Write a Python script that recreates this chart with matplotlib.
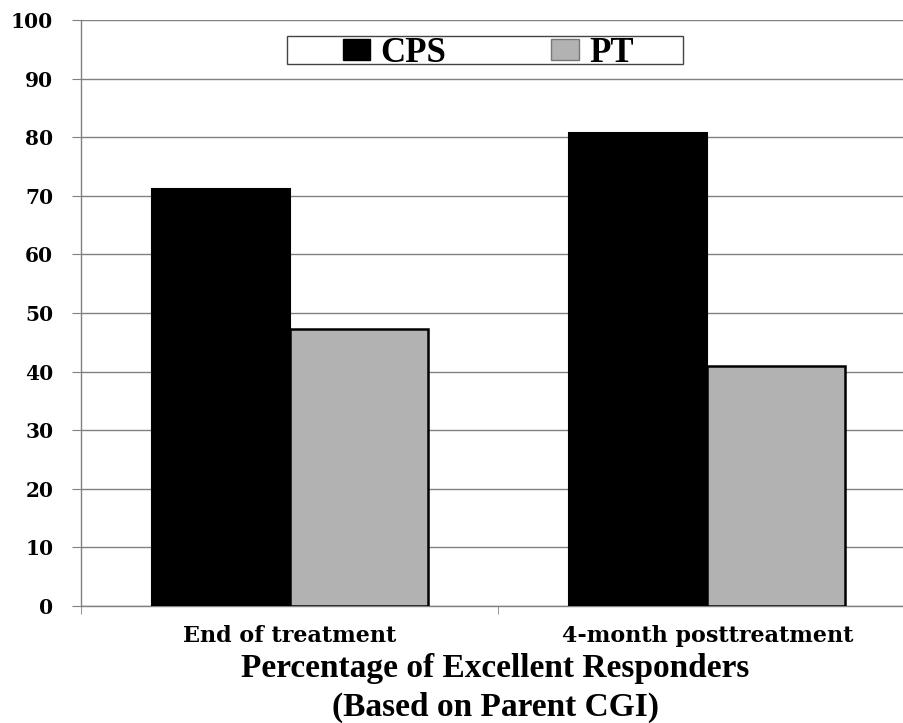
import matplotlib.pyplot as plt
from matplotlib.patches import Patch, Rectangle

categories = ["End of treatment", "4-month posttreatment"]
cps = [71.2, 80.7]
pt = [47.3, 41.0]
series_names = ["CPS", "PT"]
y_ticks = list(range(0, 101, 10))

W, H = 904, 723
fig = plt.figure(figsize=(W / 100, H / 100), dpi=100)
ax = fig.add_axes([81 / W, 1 - 606 / H, 835 / W, 586 / H])

pos = list(range(len(categories)))
bw = 0.33
ax.bar([p - bw for p in pos], cps, width=bw, align="edge", color="black",
       edgecolor="black", linewidth=1.5, zorder=3)
ax.bar(pos, pt, width=bw, align="edge", color="#b2b2b2",
       edgecolor="black", linewidth=1.8, zorder=3)

ax.set_xlim(-0.5, 1.5)
ax.set_ylim(0, 100)
ax.set_yticks(y_ticks)
ax.set_yticklabels([str(t) for t in y_ticks], family="DejaVu Serif",
                   fontweight="bold", fontsize=14.5)
ax.yaxis.grid(True, color="#808080", linewidth=1.0, zorder=0)

ax.set_xticks(pos)
ax.set_xticklabels(categories, family="DejaVu Serif", fontweight="bold",
                   fontsize=16)
ax.set_xticks([-0.5, 0.5, 1.5], minor=True)
ax.tick_params(axis="x", which="major", length=0, pad=14)
ax.tick_params(axis="x", which="minor", length=5.5, color="#808080")
ax.tick_params(axis="y", length=6.5, color="#808080", pad=13.5)

for side in ["top", "right"]:
    ax.spines[side].set_visible(False)
for side in ["left", "bottom"]:
    ax.spines[side].set_color("#808080")
    ax.spines[side].set_linewidth(1.0)

# legend box
fig.patches.append(Rectangle((287 / W, 1 - 64 / H), 396 / W, 28 / H,
                             transform=fig.transFigure, facecolor="white",
                             edgecolor="#444444", linewidth=1.0, zorder=5))
handles = [Patch(facecolor="black", edgecolor="black"),
           Patch(facecolor="#b2b2b2", edgecolor="#777777")]
leg = fig.legend(handles, series_names, loc="center",
                 bbox_to_anchor=(488 / W, 1 - 53 / H), ncol=2, frameon=False,
                 prop={"family": "Liberation Serif", "weight": "bold", "size": 25},
                 handlelength=0.8, handleheight=0.55, handletextpad=0.3,
                 columnspacing=3.0, borderpad=0)
leg.set_zorder(6)

fig.text(495 / W, 1 - 668 / H, "Percentage of Excellent Responders",
         ha="center", va="center", family="Liberation Serif",
         fontweight="bold", fontsize=24)
fig.text(495 / W, 1 - 707 / H, "(Based on Parent CGI)",
         ha="center", va="center", family="Liberation Serif",
         fontweight="bold", fontsize=24)

fig.savefig("out.png", dpi=100)
